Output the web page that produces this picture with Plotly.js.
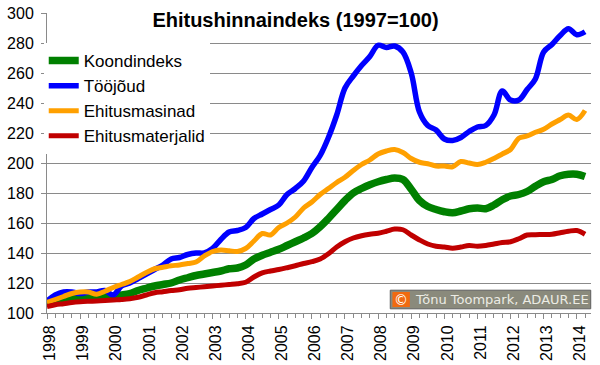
<!DOCTYPE html>
<html>
<head>
<meta charset="utf-8">
<script src="https://cdn.plot.ly/plotly-3.0.1.min.js"></script>
<style>
html,body{margin:0;padding:0;background:#fff;}
#chart{width:600px;height:365px;}
</style>
</head>
<body>
<div id="chart"></div>
<script>
// Quarterly data, 1998 Q1 – 2014 Q2 (index 1997 = 100)
const years = [1998,1999,2000,2001,2002,2003,2004,2005,2006,2007,2008,2009,2010,2011,2012,2013,2014];
const seriesNames = ['Koondindeks','Tööjõud','Ehitusmasinad','Ehitusmaterjalid'];
const seriesColors = ['#008000','#0000ff','#ffa000','#c00000'];

const koondindeks = [
  106.5,108.5,109.5,110,   110.5,111,111,111,     111.3,112,113,115,     116.5,118,119,120,
  122,123.5,125,126,       127,128,129.5,130,     132,136,138.5,140.5,   142.5,145,147.5,150,
  153,157.5,163,169,       175,180,183,185.5,     187.5,189,190,189,     182.5,175,171,169,
  167.5,166.8,168,169.5,   170,169.5,172,175.5,   178,179,181,184.5,     187.5,189,191.5,192.5,
  192.5,191
];
const toojoud = [
  108,112,114,114,         113,114,114,115,       112,118,120,123,       126,129,132,136,
  137,139,140,140,         143,149,154,155,       157,163,166,169,       172,179,183,188,
  197,205,217,232,         250,258,265,271,       278.5,277,278,274,     260,234,225,222,
  216,215,217,221,         224,225,232,248,       242,242,249,256,       274,279,285,289.5,
  285.5,287.5
];
const ehitusmasinad = [
  107,109,111,113,         114,114,112.5,114.5,   117,119,121,124,       127,129.5,130.5,131.5,
  132,133,134,138,         141,142,141.5,141,     143,148,153,152,       157,160,164,170,
  174,179,183,187,         190.5,195,199,202,     206,208,209,207,       203,200.5,199.5,198,
  198,197.5,201,200,       199,200.5,203,206,     209,216.5,218,220.5,   222.5,226,229,232,
  229,235
];
const ehitusmaterjalid = [
  104.2,105.5,106.2,107,   107.5,107.8,108,108.3, 108.7,109,109.5,110.5, 112,113.5,114.2,115,
  115.5,116.5,117,117.5,   118,118.5,119,119.5,   120.5,124,126.7,128,   129,130.2,131.5,133,
  134.2,136,139.5,144,     147.5,150,151.5,152.5, 153.2,154.5,156,155.5, 152,148.7,146,144.5,
  144,143.2,144,145,       144.5,145,146,147,     147.5,149.5,152,152.2, 152.3,152.5,153.5,154.5,
  155,152.5
];
const seriesValues = [koondindeks, toojoud, ehitusmasinad, ehitusmaterjalid];
const lineWidths = [7.5, 5.5, 5, 5];

// time axis: each value is one quarter
const quarterTimes = koondindeks.map((_, i) => years[0] + i / 4);

const traces = seriesValues.map((vals, k) => ({
  type: 'scatter',
  mode: 'lines',
  name: seriesNames[k],
  x: quarterTimes,
  y: vals,
  line: {color: seriesColors[k], width: lineWidths[k], shape: 'spline', smoothing: 1},
  hoverinfo: 'skip'
}));

const axisGray = '#8a8a8a';
const layout = {
  width: 600, height: 365,
  margin: {l: 47, r: 9, t: 13, b: 52},
  paper_bgcolor: '#ffffff', plot_bgcolor: '#ffffff',
  font: {family: '"Liberation Sans", Arial, sans-serif', color: '#000'},
  showlegend: true,
  title: {
    text: '<b>Ehitushinnaindeks (1997=100)</b>',
    font: {size: 20, color: '#000', family: '"Liberation Sans", Arial, sans-serif'},
    x: 0.4925, xanchor: 'center', y: 0.945, yanchor: 'middle'
  },
  legend: {
    x: -0.006, y: 0.9, xanchor: 'left', yanchor: 'top',
    bgcolor: '#ffffff', borderwidth: 0,
    font: {size: 17, color: '#000'},
    tracegroupgap: 0
  },
  xaxis: {
    range: [1998, 2014.43],
    tickmode: 'linear', tick0: years[0], dtick: 1, tickformat: 'd',
    tickangle: -90, ticklabelshift: 3,
    ticks: 'outside', ticklen: 5, tickcolor: axisGray,
    minor: {dtick: 0.25, tick0: years[0], ticks: 'outside', ticklen: 4, tickcolor: axisGray, showgrid: false},
    showgrid: false, zeroline: false,
    showline: true, linecolor: axisGray, linewidth: 1,
    tickfont: {size: 16, color: '#000'}
  },
  yaxis: {
    range: [100, 300], tick0: 100, dtick: 20,
    showgrid: true, gridcolor: axisGray, gridwidth: 1,
    zeroline: false, showline: true, linecolor: axisGray, linewidth: 1,
    ticks: 'outside', ticklen: 5, tickcolor: axisGray,
    ticklabelstandoff: 4,
    tickfont: {size: 16, color: '#000'}
  },
  shapes: [
    // white backing behind the title (hides the top gridline there)
    {type: 'rect', xref: 'paper', yref: 'paper', x0: 0.186, x1: 0.726, y0: 0.943, y1: 1.03,
     fillcolor: '#ffffff', line: {width: 0}, layer: 'above'},
    // copyright badge
    {type: 'rect', xref: 'paper', yref: 'paper', x0: 0.631, x1: 0.9995, y0: 0.014, y1: 0.076,
     fillcolor: '#8a8a7c', line: {color: '#5e5e5e', width: 1}, layer: 'above'},
    {type: 'rect', xref: 'paper', yref: 'paper', x0: 0.635, x1: 0.667, y0: 0.02, y1: 0.07,
     fillcolor: '#f06a10', line: {width: 0}, layer: 'above'}
  ],
  annotations: [
    {xref: 'paper', yref: 'paper', x: 0.651, y: 0.045, xanchor: 'center', yanchor: 'middle',
     text: '©', showarrow: false, font: {family: '"DejaVu Sans", sans-serif', size: 14, color: '#ffffff'}},
    {xref: 'paper', yref: 'paper', x: 0.672, y: 0.045, xanchor: 'left', yanchor: 'middle',
     text: 'Tõnu Toompark, ADAUR.EE', showarrow: false,
     font: {family: '"DejaVu Sans", sans-serif', size: 13, color: '#ececE4'}}
  ]
};

Plotly.newPlot('chart', traces, layout, {displayModeBar: false, staticPlot: true});
</script>
</body>
</html>
